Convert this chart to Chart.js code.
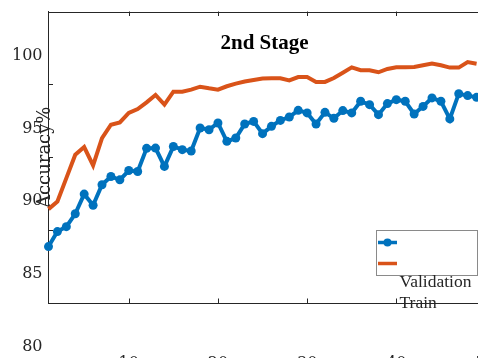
<!DOCTYPE html>
<html>
<head>
<meta charset="utf-8">
<script src="https://cdn.jsdelivr.net/npm/chart.js@4/dist/chart.umd.min.js"></script>
<style>
  html, body { margin: 0; padding: 0; background: #ffffff; overflow: hidden; }
  canvas { display: block; }
</style>
</head>
<body>
<canvas id="acc" width="490" height="358" style="width:490px;height:358px"></canvas>
<script>
// Training epochs
const epochs = [1, 2, 3, 4, 5, 6, 7, 8, 9, 10,
                11, 12, 13, 14, 15, 16, 17, 18, 19, 20,
                21, 22, 23, 24, 25, 26, 27, 28, 29, 30,
                31, 32, 33, 34, 35, 36, 37, 38, 39, 40,
                41, 42, 43, 44, 45, 46, 47, 48, 49];

// Accuracy (%) per epoch
const validationAcc = [83.87, 84.90, 85.24, 86.12, 87.47, 86.71, 88.11, 88.68, 88.45, 89.09,
                       89.02, 90.61, 90.63, 89.37, 90.74, 90.52, 90.43, 92.01, 91.89, 92.35,
                       91.09, 91.32, 92.28, 92.46, 91.62, 92.12, 92.53, 92.76, 93.22, 93.04,
                       92.28, 93.08, 92.67, 93.20, 93.04, 93.84, 93.61, 92.92, 93.68, 93.95,
                       93.84, 92.97, 93.49, 94.07, 93.84, 92.63, 94.36, 94.23, 94.11];
const trainAcc = [86.44, 86.96, 88.57, 90.17, 90.70, 89.44, 91.32, 92.23, 92.39, 93.04,
                  93.31, 93.77, 94.27, 93.61, 94.50, 94.50, 94.64, 94.84, 94.73, 94.64,
                  94.87, 95.05, 95.20, 95.30, 95.40, 95.42, 95.42, 95.27, 95.50, 95.50,
                  95.17, 95.17, 95.44, 95.80, 96.17, 95.97, 95.97, 95.83, 96.06, 96.17,
                  96.17, 96.20, 96.31, 96.43, 96.31, 96.15, 96.15, 96.53, 96.42];

// Axis ticks and text
const xTickValues = [10, 20, 30, 40, 50];
const yTickValues = [80, 85, 90, 95, 100];
const seriesNames = ['Validation', 'Train'];
const chartTitle = '2nd Stage';
const yAxisTitle = 'Accuracy%';

const BLUE = '#0072BD';
const ORANGE = '#D95319';
const AXIS = '#262626';

const toPoints = (xs, ys) => xs.map((x, i) => ({ x: x, y: ys[i] }));

// Box outline plus inward-pointing tick marks on every side
const framePlugin = {
  id: 'frame',
  afterDatasetsDraw(chart) {
    const { ctx, chartArea: a, scales: { x, y } } = chart;
    const len = 4.5;
    ctx.save();
    ctx.strokeStyle = AXIS;
    ctx.lineWidth = 1;
    ctx.beginPath();
    ctx.moveTo(a.left, Math.round(a.top) + 0.5);
    ctx.lineTo(a.right, Math.round(a.top) + 0.5);
    ctx.moveTo(Math.round(a.right) + 0.5, a.top);
    ctx.lineTo(Math.round(a.right) + 0.5, a.bottom);
    x.ticks.forEach(t => {
      const px = Math.round(x.getPixelForValue(t.value)) + 0.5;
      ctx.moveTo(px, a.bottom); ctx.lineTo(px, a.bottom - len);
      ctx.moveTo(px, a.top); ctx.lineTo(px, a.top + len);
    });
    y.ticks.forEach(t => {
      const py = Math.round(y.getPixelForValue(t.value)) + 0.5;
      ctx.moveTo(a.left, py); ctx.lineTo(a.left + len, py);
      ctx.moveTo(a.right, py); ctx.lineTo(a.right - len, py);
    });
    ctx.stroke();
    ctx.restore();
  }
};

// Title text inside the axes
const titlePlugin = {
  id: 'innerTitle',
  afterDraw(chart) {
    const { ctx, chartArea: a } = chart;
    ctx.save();
    ctx.fillStyle = '#000000';
    ctx.font = 'bold 21px "Liberation Serif"';
    ctx.textAlign = 'center';
    ctx.textBaseline = 'alphabetic';
    ctx.fillText(chartTitle, a.left + 216, a.top + 37);
    ctx.restore();
  }
};

// Legend box with line samples; names are set just under it
const legendPlugin = {
  id: 'boxLegend',
  afterDraw(chart) {
    const { ctx } = chart;
    const bx = 376, by = 230.5, bw = 101, bh = 45;
    ctx.save();
    ctx.fillStyle = '#ffffff';
    ctx.fillRect(bx, by, bw, bh);
    ctx.strokeStyle = '#8a8a8a';
    ctx.lineWidth = 1;
    ctx.strokeRect(bx + 0.5, by, bw, bh);
    const rows = [by + 12, by + 33];
    chart.data.datasets.forEach((ds, i) => {
      const ry = rows[i];
      ctx.strokeStyle = ds.borderColor;
      ctx.lineWidth = 3.5;
      ctx.beginPath();
      ctx.moveTo(378, ry);
      ctx.lineTo(397, ry);
      ctx.stroke();
      if (ds.pointRadius > 0) {
        ctx.fillStyle = ds.borderColor;
        ctx.beginPath();
        ctx.arc(387.5, ry, 4, 0, Math.PI * 2);
        ctx.fill();
      }
    });
    ctx.fillStyle = AXIS;
    ctx.font = '17.5px "Liberation Serif"';
    ctx.textAlign = 'left';
    ctx.textBaseline = 'alphabetic';
    ctx.fillText(chart.data.datasets[0].label, 399.5, 287);
    ctx.fillText(chart.data.datasets[1].label, 399.5, 308);
    ctx.restore();
  }
};

new Chart(document.getElementById('acc'), {
  type: 'line',
  data: {
    datasets: [
      {
        label: seriesNames[0],
        data: toPoints(epochs, validationAcc),
        borderColor: BLUE,
        backgroundColor: BLUE,
        borderWidth: 4,
        pointRadius: 4.5,
        pointBackgroundColor: BLUE,
        pointBorderWidth: 0,
        tension: 0,
        clip: false
      },
      {
        label: seriesNames[1],
        data: toPoints(epochs, trainAcc),
        borderColor: ORANGE,
        backgroundColor: ORANGE,
        borderWidth: 4,
        pointRadius: 0,
        tension: 0,
        clip: false
      }
    ]
  },
  options: {
    responsive: false,
    animation: false,
    events: [],
    layout: { padding: { top: 11.5, right: 3, left: 0, bottom: 0 } },
    plugins: {
      legend: { display: false },
      tooltip: { enabled: false },
      title: { display: false }
    },
    scales: {
      x: {
        type: 'linear',
        min: 1,
        max: 50,
        afterBuildTicks: s => { s.ticks = xTickValues.map(v => ({ value: v })); },
        afterFit: s => { s.height = 55; s.paddingLeft = 0; s.paddingRight = 0; },
        grid: { display: false, drawTicks: false },
        border: { display: true, color: AXIS, width: 1 },
        ticks: {
          autoSkip: false,
          maxRotation: 0,
          padding: 51,
          color: AXIS,
          font: { family: 'DejaVu Serif', size: 16 }
        }
      },
      y: {
        type: 'linear',
        min: 80,
        max: 100,
        afterBuildTicks: s => { s.ticks = yTickValues.map(v => ({ value: v })); },
        afterFit: s => { s.width = 48.5; s.paddingTop = 0; s.paddingBottom = 0; },
        grid: { display: false, drawTicks: false },
        border: { display: true, color: AXIS, width: 1 },
        title: {
          display: true,
          text: yAxisTitle,
          color: AXIS,
          font: { family: 'DejaVu Serif', size: 18 },
          padding: { top: 35, bottom: 0 }
        },
        ticks: {
          autoSkip: false,
          padding: 6,
          labelOffset: 44,
          color: AXIS,
          font: { family: 'DejaVu Serif', size: 16 }
        }
      }
    }
  },
  plugins: [framePlugin, titlePlugin, legendPlugin]
});
</script>
</body>
</html>
